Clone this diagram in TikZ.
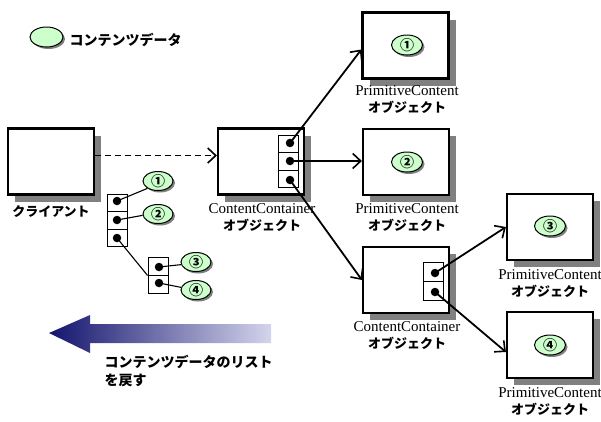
\documentclass[tikz,border=0pt]{standalone}
\usepackage{fontspec}
\setmainfont{Liberation Serif}
\newfontfamily\jp{Noto Sans CJK JP}
\usetikzlibrary{arrows.meta,shapes.geometric,shadows}
\definecolor{datagreen}{RGB}{204,255,204}
\definecolor{shadowgray}{RGB}{128,128,128}
\definecolor{arrowdark}{RGB}{20,20,110}
\definecolor{arrowlight}{RGB}{212,212,236}
\newcommand\jpb{\jp\bfseries}
\newcommand\objtext[1]{#1\\{\jpb\fontsize{13}{17}\selectfont オブジェクト}}

\tikzset{
  obj/.style={draw, line width=2.2pt, fill=white, minimum width=86pt, minimum height=66pt, inner sep=0pt,
    drop shadow={shadow xshift=7pt, shadow yshift=-7pt, fill=shadowgray, opacity=1}},
  datum/.style={ellipse, draw, line width=1pt, fill=datagreen, minimum width=30pt, minimum height=19pt,
    inner sep=0pt, font=\jpb\fontsize{14}{14}\selectfont,
    drop shadow={shadow xshift=2pt, shadow yshift=-2pt, fill=shadowgray, opacity=1}},
  slot/.style={draw, line width=0.9pt, fill=white, minimum width=20pt, minimum height=18pt, inner sep=0pt},
  ptr/.style={circle, fill=black, inner sep=0pt, minimum size=8.5pt},
  caption/.style={align=center, font=\fontsize{15}{17}\selectfont},
  jplabel/.style={font=\jpb\fontsize{14}{18}\selectfont, align=left},
  ref/.style={line width=1.8pt, -{Straight Barb[length=8pt,width=15pt,line width=1.6pt]}},
  link/.style={line width=1.1pt}
}

\begin{document}
\begin{tikzpicture}[x=1pt,y=-1pt]
    \useasboundingbox (0,0) rectangle (601,421);

    %%%%% legend %%%%%
    \node[datum, minimum width=33pt, minimum height=20pt] (key) at (46.5,37) {};
    \node[jplabel, anchor=west] (keytext) at (66,40) {コンテンツデータ};

    %%%%% objects %%%%%
    \node[obj] (client) at (51,161.5) {};
    \node[obj] (cc1) at (261,161.5) {};
    \node[obj] (pc1) at (405.5,45.5) {};
    \node[obj] (pc2) at (406,162) {};
    \node[obj] (cc2) at (406,280) {};
    \node[obj] (pc3) at (550,227) {};
    \node[obj] (pc4) at (550,345) {};

    \node[font=\jpb\fontsize{13}{13}\selectfont] (clientname) at (51,212) {クライアント};
    \node[caption] (cc1name) at (262,218) {\objtext{ContentContainer}};
    \node[caption] (pc1name) at (407,100) {\objtext{PrimitiveContent}};
    \node[caption] (pc2name) at (407,218) {\objtext{PrimitiveContent}};
    \node[caption] (cc2name) at (407,336) {\objtext{ContentContainer}};
    \node[caption] (pc3name) at (550,284) {\objtext{PrimitiveContent}};
    \node[caption] (pc4name) at (550,402) {\objtext{PrimitiveContent}};

    %%%%% data inside the primitives %%%%%
    \node[datum, minimum width=31pt, minimum height=20pt] (in1) at (407,45) {①};
    \node[datum, minimum width=31pt, minimum height=20pt] (in2) at (407,162) {②};
    \node[datum, minimum width=31pt, minimum height=20pt] (in3) at (550,226) {③};
    \node[datum, minimum width=31pt, minimum height=20pt] (in4) at (550,345) {④};

    %%%%% slots of the containers %%%%%
    \node[slot, minimum height=17.7pt] (s1) at (288,144) {};
    \node[slot, minimum height=17.7pt] (s2) at (288,161.5) {};
    \node[slot, minimum height=17.7pt] (s3) at (288,179) {};
    \node[ptr] (p1) at (290,143) {};
    \node[ptr] (p2) at (290,161) {};
    \node[ptr] (p3) at (290,180) {};

    \node[slot, minimum height=19pt] (t1) at (433,271.5) {};
    \node[slot, minimum height=19pt] (t2) at (433,290.5) {};
    \node[ptr] (q1) at (435,273) {};
    \node[ptr] (q2) at (435,292) {};

    \draw[ref, dash pattern=on 6pt off 4pt] ([yshift=6pt]client.east) -- ([yshift=6pt]cc1.west);
    \draw[ref] (p1.center) -- ([yshift=-4pt]pc1.west);
    \draw[ref] (p2.center) -- (pc2.west |- p2);
    \draw[ref] (p3.center) -- (cc2.west);
    \draw[ref] (q1.center) -- (pc3.west);
    \draw[ref] (q2.center) -- ([yshift=-7pt]pc4.west);

    %%%%% returned list %%%%%
    \node[slot, minimum height=17.7pt] (l1) at (117,203) {};
    \node[slot, minimum height=17.7pt] (l2) at (117,220.5) {};
    \node[slot, minimum height=17.7pt] (l3) at (117,238) {};
    \node[ptr] (r1) at (117,201) {};
    \node[ptr] (r2) at (117,220) {};
    \node[ptr] (r3) at (117,238) {};

    \node[slot] (m1) at (158,266) {};
    \node[slot] (m2) at (158,284) {};
    \node[ptr] (u1) at (159,267) {};
    \node[ptr] (u2) at (159,283) {};

    \node[datum] (d1) at (158,181) {①};
    \node[datum] (d2) at (158,214) {②};
    \node[datum] (d3) at (196,262) {③};
    \node[datum] (d4) at (196,290) {④};

    \draw[link] (r1.center) -- (d1.215);
    \draw[link] (r2.center) -- (d2.185);
    \draw[link] (r3.center) -- (m1.south west);
    \draw[link] (u1.center) -- (d3.190);
    \draw[link] (u2.center) -- (d4.170);

    %%%%% big arrow %%%%%
    \shade[left color=arrowdark, right color=arrowlight]
        (49,333) -- (90,315) -- (90,324) -- (271,324) -- (271,343) -- (90,343) -- (90,353) -- cycle;
    \node[jplabel, anchor=west] (returntext) at (101,371) {コンテンツデータのリスト\\を戻す};
\end{tikzpicture}
\end{document}
